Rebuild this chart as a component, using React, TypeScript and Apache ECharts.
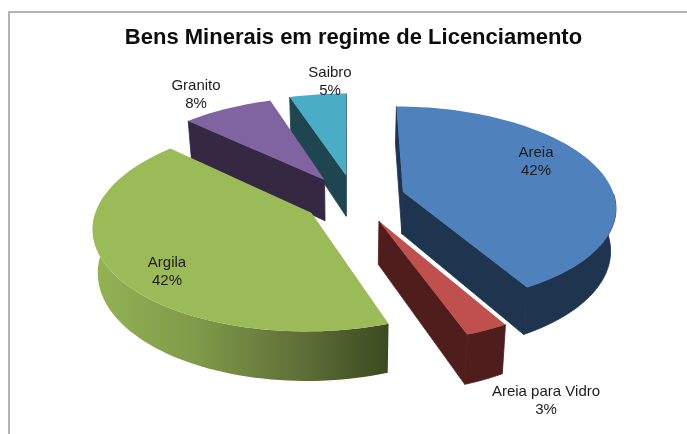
import React, { useEffect, useRef } from "react";
import * as echarts from "echarts";

const TITLE = "Bens Minerais em regime de Licenciamento";
const CATEGORIES = ["Areia", "Areia para Vidro", "Argila", "Granito", "Saibro"];
const VALUES = [41.8, 2.8, 42.4, 8, 5];

// styling and layout
const TOP_COLORS = ["#4F81BD", "#C0504D", "#9BBB59", "#8064A2", "#4BACC6"];
const WALL_COLORS = ["#1E344F", "#4F1E1C", "#3C4A20", "#342842", "#1F4650"];
const DRAW_ORDER = [4, 3, 0, 2, 1];
const OFFSETS = [[56.5, 15], [31, -46], [-35, -29], [-23, 42], [-1, 52]];
const LABEL_POS = [[536, 160.5], [546, 399], [167, 270], [196, 93], [330, 80]];
const R = 212, VX = 347, HORIZON = -540, H = 739, D = 1586, DEPTH = 42, BOTTOM_SCALE = 0.98;

const TOTAL = VALUES.reduce((a, b) => a + b, 0);

function project(X: number, Y: number, bottom: boolean): number[] {
  const s = 1 / (1 + Y / D);
  if (!bottom) return [VX + X * s, HORIZON + H * s];
  return [VX + X * s * BOTTOM_SCALE, HORIZON + H * s + DEPTH * s];
}

function side(a: number[], b: number[], p: number[]): number {
  return (b[0] - a[0]) * (p[1] - a[1]) - (b[1] - a[1]) * (p[0] - a[0]);
}

function renderItem(_params: any, api: any) {
  const idx = api.value(0) as number;
  let before = 0;
  for (let i = 0; i < idx; i++) before += VALUES[i];
  const a0 = (before / TOTAL) * Math.PI * 2;
  const a1 = ((before + (api.value(1) as number)) / TOTAL) * Math.PI * 2;
  const [ox, oy] = OFFSETS[idx];
  const steps = Math.max(4, Math.ceil((a1 - a0) / (Math.PI / 90)));
  const world: number[][] = [];
  for (let k = 0; k <= steps; k++) {
    const a = a0 + ((a1 - a0) * k) / steps;
    world.push([ox + R * Math.sin(a), oy + R * Math.cos(a)]);
  }
  const rimTop = world.map((p) => project(p[0], p[1], false));
  const rimBot = world.map((p) => project(p[0], p[1], true));
  const apexTop = project(ox, oy, false);
  const apexBot = project(ox, oy, true);
  const wall = WALL_COLORS[idx];
  const isGradient = idx === 2;
  const rimFill: any = isGradient
    ? new echarts.graphic.LinearGradient(0, 0, 1, 0, [
        { offset: 0, color: "#94B355" },
        { offset: 0.35, color: "#7F9A49" },
        { offset: 0.7, color: "#5F7038" },
        { offset: 1, color: "#3C4A20" },
      ])
    : wall;
  const poly = (points: number[][], fill: any, z2: number, stroke: string) => ({
    type: "polygon",
    z2,
    silent: true,
    shape: { points },
    style: { fill, stroke, lineWidth: stroke === "none" ? 0 : 0.8 },
  });
  const children: any[] = [];
  // a radial wall shows only when its lower edge falls outside the top face
  const s0 = side(apexTop, rimTop[0], apexBot) * side(apexTop, rimTop[0], rimTop[steps]);
  const s1 = side(apexTop, rimTop[steps], apexBot) * side(apexTop, rimTop[steps], rimTop[0]);
  if (s0 < 0) children.push(poly([apexTop, rimTop[0], rimBot[0], apexBot], wall, 1, wall));
  if (s1 < 0) children.push(poly([apexTop, rimTop[steps], rimBot[steps], apexBot], wall, 1, wall));
  // outer wall: only the part of the rim that faces the viewer
  const rimIdx = world.map((_, i) => i).filter((i) => world[i][1] - oy < 0);
  if (rimIdx.length > 1) {
    children.push(
      poly(
        [...rimIdx.map((i) => rimTop[i]), ...rimIdx.slice().reverse().map((i) => rimBot[i])],
        rimFill,
        2,
        isGradient ? "none" : wall
      )
    );
  }
  children.push(poly([apexTop, ...rimTop], TOP_COLORS[idx], 3, "none"));
  children.push({
    type: "text",
    z2: 10,
    silent: true,
    x: LABEL_POS[idx][0],
    y: LABEL_POS[idx][1],
    style: {
      text: `${CATEGORIES[idx]}\n${Math.round(VALUES[idx])}%`,
      fill: "#1c1c1c",
      font: '15px "Liberation Sans", Arial, sans-serif',
      lineHeight: 18,
      align: "center",
      verticalAlign: "middle",
    },
  });
  return { type: "group", children };
}

export default function App() {
  const ref = useRef<HTMLDivElement>(null);
  useEffect(() => {
    const chart = echarts.init(ref.current!, undefined, { renderer: "svg" });
    chart.setOption({
      animation: false,
      backgroundColor: "#ffffff",
      title: {
        text: TITLE,
        left: 348.5,
        top: 20,
        textAlign: "center",
        textStyle: {
          fontFamily: '"Liberation Sans", Arial, sans-serif',
          fontWeight: "bold",
          fontSize: 22,
          color: "#0d0d0d",
        },
      },
      graphic: [
        { type: "line", silent: true, shape: { x1: 8, y1: 12, x2: 687, y2: 12 }, style: { stroke: "#b4b4b4", lineWidth: 2 } },
        { type: "line", silent: true, shape: { x1: 9, y1: 12, x2: 9, y2: 434 }, style: { stroke: "#b4b4b4", lineWidth: 2 } },
      ],
      series: [
        {
          type: "custom",
          coordinateSystem: "none",
          silent: true,
          renderItem,
          data: DRAW_ORDER.map((i) => [i, VALUES[i]]),
        },
      ],
    });
    return () => chart.dispose();
  }, []);
  return (
    <div
      ref={ref}
      style={{ position: "absolute", left: 0, top: 0, width: 687, height: 434, filter: "blur(0.4px)" }}
    />
  );
}
